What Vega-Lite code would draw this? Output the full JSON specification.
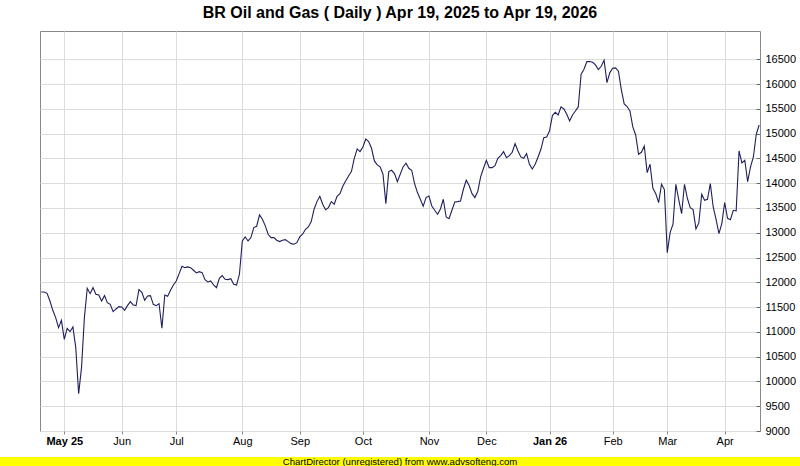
{
  "$schema": "https://vega.github.io/schema/vega-lite/v6.json",
  "padding": {"left": 0, "right": 0, "top": 4, "bottom": 0},
  "autosize": {"type": "pad"},
  "background": "white",
  "bounds": "flush",
  "center": true,
  "spacing": 26,
  "config": {"font": "Liberation Sans"},
  "vconcat": [
    {
      "width": 720,
      "height": 400,
      "title": {"text": "BR Oil and Gas ( Daily ) Apr 19, 2025 to Apr 19, 2026", "fontSize": 16, "fontWeight": "bold", "color": "#000000", "offset": 10, "anchor": "middle", "font": "Liberation Sans"},
      "view": {"stroke": "#888888", "strokeWidth": 1},
      "data": {"values": [
        {"t":0,"v":11805},{"t":1,"v":11805},{"t":2,"v":11778},{"t":3,"v":11623},{"t":4,"v":11435},{"t":5,"v":11287},{"t":6,"v":11085},{"t":7,"v":11233},{"t":8,"v":10850},{"t":9,"v":11072},
        {"t":10,"v":11004},{"t":11,"v":11099},{"t":12,"v":10681},{"t":13,"v":9753},{"t":14,"v":10278},{"t":15,"v":11287},{"t":16,"v":11879},{"t":17,"v":11771},{"t":18,"v":11892},{"t":19,"v":11758},
        {"t":20,"v":11744},{"t":21,"v":11623},{"t":22,"v":11731},{"t":23,"v":11590},{"t":24,"v":11556},{"t":25,"v":11408},{"t":26,"v":11462},{"t":27,"v":11509},{"t":28,"v":11502},{"t":29,"v":11435},
        {"t":30,"v":11529},{"t":31,"v":11610},{"t":32,"v":11543},{"t":33,"v":11529},{"t":34,"v":11852},{"t":35,"v":11798},{"t":36,"v":11637},{"t":37,"v":11724},{"t":38,"v":11731},{"t":39,"v":11556},
        {"t":40,"v":11529},{"t":41,"v":11569},{"t":42,"v":11072},{"t":43,"v":11744},{"t":44,"v":11718},{"t":45,"v":11839},{"t":46,"v":11946},{"t":47,"v":12027},{"t":48,"v":12175},{"t":49,"v":12323},
        {"t":50,"v":12296},{"t":51,"v":12310},{"t":52,"v":12296},{"t":53,"v":12243},{"t":54,"v":12189},{"t":55,"v":12215},{"t":56,"v":12195},{"t":57,"v":12054},{"t":58,"v":12007},{"t":59,"v":12027},
        {"t":60,"v":11946},{"t":61,"v":11892},{"t":62,"v":12081},{"t":63,"v":12135},{"t":64,"v":12061},{"t":65,"v":12054},{"t":66,"v":12074},{"t":67,"v":11960},{"t":68,"v":11946},{"t":69,"v":12162},
        {"t":70,"v":12834},{"t":71,"v":12916},{"t":72,"v":12834},{"t":73,"v":12902},{"t":74,"v":13104},{"t":75,"v":13131},{"t":76,"v":13359},{"t":77,"v":13271},{"t":78,"v":13138},{"t":79,"v":12969},
        {"t":80,"v":12902},{"t":81,"v":12902},{"t":82,"v":12848},{"t":83,"v":12821},{"t":84,"v":12848},{"t":85,"v":12861},{"t":86,"v":12820},{"t":87,"v":12780},{"t":88,"v":12767},{"t":89,"v":12800},
        {"t":90,"v":12915},{"t":91,"v":12969},{"t":92,"v":13070},{"t":93,"v":13117},{"t":94,"v":13224},{"t":95,"v":13474},{"t":96,"v":13628},{"t":97,"v":13736},{"t":98,"v":13574},{"t":99,"v":13466},
        {"t":100,"v":13507},{"t":101,"v":13628},{"t":102,"v":13574},{"t":103,"v":13736},{"t":104,"v":13789},{"t":105,"v":13938},{"t":106,"v":14045},{"t":107,"v":14146},{"t":108,"v":14233},{"t":109,"v":14502},
        {"t":110,"v":14691},{"t":111,"v":14636},{"t":112,"v":14731},{"t":113,"v":14892},{"t":114,"v":14838},{"t":115,"v":14704},{"t":116,"v":14449},{"t":117,"v":14368},{"t":118,"v":14328},{"t":119,"v":14180},
        {"t":120,"v":13587},{"t":121,"v":14233},{"t":122,"v":14260},{"t":123,"v":14193},{"t":124,"v":14031},{"t":125,"v":14180},{"t":126,"v":14328},{"t":127,"v":14402},{"t":128,"v":14301},{"t":129,"v":14261},
        {"t":130,"v":13991},{"t":131,"v":13810},{"t":132,"v":13675},{"t":133,"v":13534},{"t":134,"v":13709},{"t":135,"v":13742},{"t":136,"v":13540},{"t":137,"v":13453},{"t":138,"v":13373},{"t":139,"v":13480},
        {"t":140,"v":13675},{"t":141,"v":13318},{"t":142,"v":13284},{"t":143,"v":13453},{"t":144,"v":13621},{"t":145,"v":13627},{"t":146,"v":13641},{"t":147,"v":13877},{"t":148,"v":14059},{"t":149,"v":13951},
        {"t":150,"v":13789},{"t":151,"v":13709},{"t":152,"v":13830},{"t":153,"v":14126},{"t":154,"v":14301},{"t":155,"v":14462},{"t":156,"v":14314},{"t":157,"v":14314},{"t":158,"v":14354},{"t":159,"v":14502},
        {"t":160,"v":14556},{"t":161,"v":14636},{"t":162,"v":14515},{"t":163,"v":14556},{"t":164,"v":14623},{"t":165,"v":14798},{"t":166,"v":14650},{"t":167,"v":14529},{"t":168,"v":14502},{"t":169,"v":14596},
        {"t":170,"v":14381},{"t":171,"v":14287},{"t":172,"v":14381},{"t":173,"v":14529},{"t":174,"v":14684},{"t":175,"v":14919},{"t":176,"v":14933},{"t":177,"v":15054},{"t":178,"v":15364},{"t":179,"v":15430},
        {"t":180,"v":15377},{"t":181,"v":15538},{"t":182,"v":15498},{"t":183,"v":15390},{"t":184,"v":15255},{"t":185,"v":15377},{"t":186,"v":15457},{"t":187,"v":15538},{"t":188,"v":16198},{"t":189,"v":16298},
        {"t":190,"v":16453},{"t":191,"v":16453},{"t":192,"v":16440},{"t":193,"v":16386},{"t":194,"v":16292},{"t":195,"v":16359},{"t":196,"v":16480},{"t":197,"v":16029},{"t":198,"v":16231},{"t":199,"v":16319},
        {"t":200,"v":16325},{"t":201,"v":16258},{"t":202,"v":15889},{"t":203,"v":15599},{"t":204,"v":15546},{"t":205,"v":15457},{"t":206,"v":15134},{"t":207,"v":14973},{"t":208,"v":14583},{"t":209,"v":14623},
        {"t":210,"v":14751},{"t":211,"v":14213},{"t":212,"v":14381},{"t":213,"v":13898},{"t":214,"v":13789},{"t":215,"v":13607},{"t":216,"v":13978},{"t":217,"v":13870},{"t":218,"v":12598},{"t":219,"v":13002},
        {"t":220,"v":13171},{"t":221,"v":13978},{"t":222,"v":13668},{"t":223,"v":13385},{"t":224,"v":13978},{"t":225,"v":13695},{"t":226,"v":13506},{"t":227,"v":13466},{"t":228,"v":13077},{"t":229,"v":13198},
        {"t":230,"v":13776},{"t":231,"v":13655},{"t":232,"v":13675},{"t":233,"v":13991},{"t":234,"v":13520},{"t":235,"v":13271},{"t":236,"v":12982},{"t":237,"v":13184},{"t":238,"v":13607},{"t":239,"v":13291},
        {"t":240,"v":13264},{"t":241,"v":13453},{"t":242,"v":13440},{"t":243,"v":14650},{"t":244,"v":14408},{"t":245,"v":14462},{"t":246,"v":14031},{"t":247,"v":14328},{"t":248,"v":14529},{"t":249,"v":14986},
        {"t":250,"v":15174}
      ]},
      "mark": {"type": "line", "color": "#1f1f5e", "strokeWidth": 1.1, "clip": true},
      "encoding": {
        "x": {
          "field": "t", "type": "quantitative",
          "scale": {"domain": [-0.46, 250.3], "nice": false, "zero": false},
          "axis": {
            "values": [8, 28, 47, 70, 90, 112, 135, 155, 177, 199, 218, 238],
            "labelExpr": "{'8':'May 25','28':'Jun','47':'Jul','70':'Aug','90':'Sep','112':'Oct','135':'Nov','155':'Dec','177':'Jan 26','199':'Feb','218':'Mar','238':'Apr'}[datum.value]",
            "labelFontWeight": {"condition": {"test": "datum.value == 8 || datum.value == 177", "value": "bold"}, "value": "normal"},
            "grid": true, "gridColor": "#dcdcdc", "gridWidth": 1,
            "domain": false, "ticks": true, "tickSize": 3, "tickColor": "#888888",
            "labelFontSize": 11, "labelColor": "#000000", "labelPadding": 1, "labelFont": "Liberation Sans",
            "labelFlush": false, "labelOverlap": false, "title": null
          }
        },
        "y": {
          "field": "v", "type": "quantitative",
          "scale": {"domain": [9000, 17070], "nice": false, "zero": false},
          "axis": {
            "orient": "right",
            "values": [9000, 9500, 10000, 10500, 11000, 11500, 12000, 12500, 13000, 13500, 14000, 14500, 15000, 15500, 16000, 16500],
            "format": "d",
            "grid": true, "gridColor": "#dcdcdc", "gridWidth": 1,
            "domain": false, "ticks": true, "tickSize": -4, "tickColor": "#666666",
            "labelPadding": 9, "labelFontSize": 11, "labelColor": "#000000", "labelFont": "Liberation Sans",
            "labelFlush": false, "labelOverlap": false, "title": null
          }
        }
      }
    },
    {
      "width": 800,
      "height": 10,
      "view": {"fill": "#ffff00", "stroke": null},
      "data": {"values": [{"note": "ChartDirector (unregistered) from www.advsofteng.com"}]},
      "mark": {"type": "text", "fontSize": 9.6, "color": "#000000", "baseline": "middle", "align": "center", "font": "Liberation Sans"},
      "encoding": {"text": {"field": "note", "type": "nominal"}}
    }
  ]
}
